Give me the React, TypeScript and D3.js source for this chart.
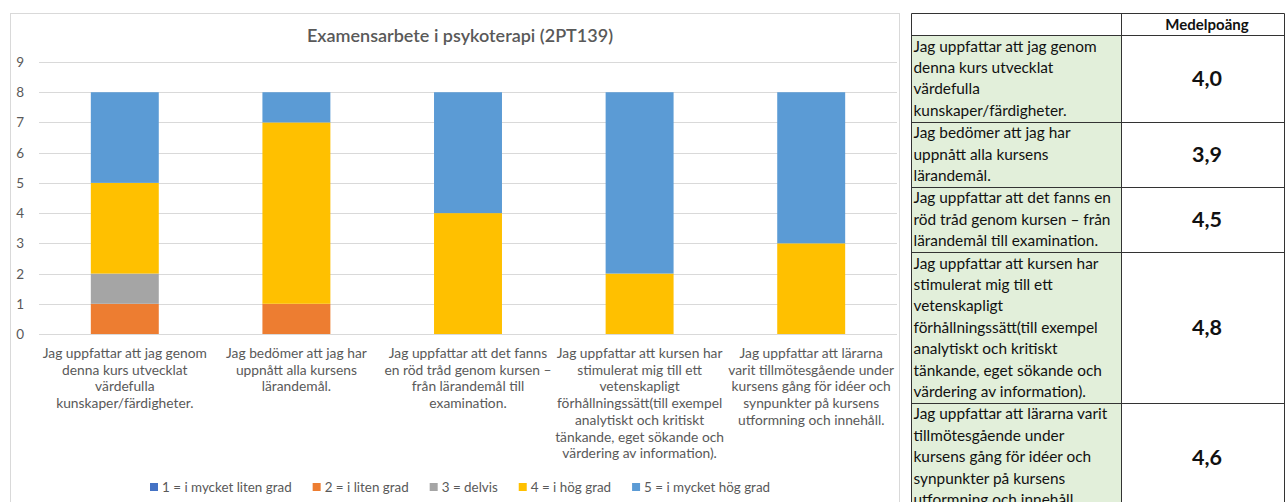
// @ts-nocheck
import React, { useEffect, useRef } from "react";
import * as d3 from "d3";

// chart data (number of answers per grade, per question)
const seriesNames = [
  "1 = i mycket liten grad",
  "2 = i liten grad",
  "3 = delvis",
  "4 = i hög grad",
  "5 = i mycket hög grad",
];
const seriesColors = ["#4472C4", "#ED7D31", "#A5A5A5", "#FFC000", "#5B9BD5"];
const grade1 = [0, 0, 0, 0, 0];
const grade2 = [1, 1, 0, 0, 0];
const grade3 = [1, 0, 0, 0, 0];
const grade4 = [3, 6, 4, 2, 3];
const grade5 = [3, 1, 4, 6, 5];

const categoryLines = [
  ["Jag uppfattar att jag genom", "denna kurs utvecklat", "värdefulla", "kunskaper/färdigheter."],
  ["Jag bedömer att jag har", "uppnått alla kursens", "lärandemål."],
  ["Jag uppfattar att det fanns", "en röd tråd genom kursen –", "från lärandemål till", "examination."],
  [
    "Jag uppfattar att kursen har",
    "stimulerat mig till ett",
    "vetenskapligt",
    "förhållningssätt(till exempel",
    "analytiskt och kritiskt",
    "tänkande, eget sökande och",
    "värdering av information).",
  ],
  [
    "Jag uppfattar att lärarna",
    "varit tillmötesgående under",
    "kursens gång för idéer och",
    "synpunkter på kursens",
    "utformning och innehåll.",
  ],
];
const yTicks = [0, 1, 2, 3, 4, 5, 6, 7, 8, 9];
const title = "Examensarbete i psykoterapi (2PT139)";

// table on the right
const tableHeader = "Medelpoäng";
const tableLines = [
  ["Jag uppfattar att jag genom", "denna kurs utvecklat", "värdefulla", "kunskaper/färdigheter."],
  ["Jag bedömer att jag har", "uppnått alla kursens", "lärandemål."],
  ["Jag uppfattar att det fanns en", "röd tråd genom kursen – från", "lärandemål till examination."],
  [
    "Jag uppfattar att kursen har",
    "stimulerat mig till ett",
    "vetenskapligt",
    "förhållningssätt(till exempel",
    "analytiskt och kritiskt",
    "tänkande, eget sökande och",
    "värdering av information).",
  ],
  [
    "Jag uppfattar att lärarna varit",
    "tillmötesgående under",
    "kursens gång för idéer och",
    "synpunkter på kursens",
    "utformning och innehåll.",
  ],
];
const means = [4.0, 3.9, 4.5, 4.8, 4.6];

const FONT = "Lato, 'Open Sans', sans-serif";
const GREY = "#595959";

export default function App() {
  const ref = useRef();

  useEffect(() => {
    const svg = d3.select(ref.current);
    svg.selectAll("*").remove();

    // chart frame
    svg
      .append("rect")
      .attr("x", 10.5)
      .attr("y", 13.5)
      .attr("width", 889)
      .attr("height", 500)
      .attr("fill", "#fff")
      .attr("stroke", "#d9d9d9");

    const x = d3
      .scaleBand()
      .domain(d3.range(categoryLines.length))
      .range([39, 897])
      .paddingInner(0.604)
      .paddingOuter(0.302);
    const y = d3.scaleLinear().domain([0, 9]).range([334, 62]);

    // grid
    svg
      .append("g")
      .selectAll("line")
      .data(yTicks)
      .join("line")
      .attr("x1", 39)
      .attr("x2", 897)
      .attr("y1", (d) => Math.round(y(d)) + 0.5)
      .attr("y2", (d) => Math.round(y(d)) + 0.5)
      .attr("stroke", "#d9d9d9");

    svg
      .append("g")
      .selectAll("text")
      .data(yTicks)
      .join("text")
      .attr("x", 24)
      .attr("y", (d) => y(d) + 5)
      .attr("text-anchor", "end")
      .attr("font-family", FONT)
      .attr("font-size", 13.5)
      .attr("fill", GREY)
      .text((d) => d);

    // stacked bars
    const rows = categoryLines.map((_, i) => ({
      i,
      s0: grade1[i],
      s1: grade2[i],
      s2: grade3[i],
      s3: grade4[i],
      s4: grade5[i],
    }));
    const stack = d3.stack().keys(["s0", "s1", "s2", "s3", "s4"])(rows);
    svg
      .append("g")
      .selectAll("g")
      .data(stack)
      .join("g")
      .attr("fill", (d, k) => seriesColors[k])
      .selectAll("rect")
      .data((d) => d)
      .join("rect")
      .attr("x", (d) => x(d.data.i))
      .attr("width", x.bandwidth())
      .attr("y", (d) => y(d[1]))
      .attr("height", (d) => y(d[0]) - y(d[1]));

    // title
    svg
      .append("text")
      .attr("x", 460)
      .attr("y", 42)
      .attr("text-anchor", "middle")
      .attr("font-family", FONT)
      .attr("font-size", 18)
      .attr("font-weight", 600)
      .attr("fill", GREY)
      .text(title);

    // category labels
    categoryLines.forEach((lines, i) => {
      const t = svg
        .append("text")
        .attr("text-anchor", "middle")
        .attr("font-family", FONT)
        .attr("font-size", 13.8)
        .attr("fill", GREY);
      lines.forEach((l, j) => {
        t.append("tspan")
          .attr("x", x(i) + x.bandwidth() / 2)
          .attr("y", 358 + j * 16.7)
          .text(l);
      });
    });

    // legend
    let lx = 150;
    seriesNames.forEach((name, k) => {
      svg
        .append("rect")
        .attr("x", lx)
        .attr("y", 483)
        .attr("width", 8)
        .attr("height", 8)
        .attr("fill", seriesColors[k]);
      const t = svg
        .append("text")
        .attr("x", lx + 12)
        .attr("y", 492)
        .attr("font-family", FONT)
        .attr("font-size", 13.4)
        .attr("fill", GREY)
        .text(name);
      lx += 12 + t.node().getComputedTextLength() + 21;
    });

    // table
    const tx0 = 911.5;
    const tx1 = 1121.5;
    const tx2 = 1284.5;
    const valX = 1207;
    const lineH = 21.4;
    const tTop = 13.5;
    const headBottom = 35.5;
    const tbl = svg.append("g");

    let top = headBottom + 0.5;
    const rowTops = [];
    tableLines.forEach((lines) => {
      rowTops.push(top);
      top += lines.length * lineH + 1;
    });

    tableLines.forEach((lines, i) => {
      const rt = rowTops[i];
      const h = lines.length * lineH + 1;
      tbl
        .append("rect")
        .attr("x", tx0)
        .attr("y", rt)
        .attr("width", tx1 - tx0)
        .attr("height", h)
        .attr("fill", "#E2EFDA");
      const t = tbl
        .append("text")
        .attr("font-family", FONT)
        .attr("font-size", 15.4)
        .attr("fill", "#111");
      lines.forEach((l, j) => {
        t.append("tspan")
          .attr("x", tx0 + 2)
          .attr("y", rt + 15.5 + j * lineH)
          .text(l);
      });
      tbl
        .append("text")
        .attr("x", valX)
        .attr("y", rt + h / 2 + 7)
        .attr("text-anchor", "middle")
        .attr("font-family", FONT)
        .attr("font-size", 21.5)
        .attr("font-weight", 700)
        .attr("fill", "#111")
        .text(d3.format(".1f")(means[i]).replace(".", ","));
    });

    tbl
      .append("text")
      .attr("x", valX)
      .attr("y", 30)
      .attr("text-anchor", "middle")
      .attr("font-family", FONT)
      .attr("font-size", 15)
      .attr("font-weight", 700)
      .attr("fill", "#111")
      .text(tableHeader);

    // table borders
    const hLines = [tTop, headBottom, ...rowTops.slice(1)];
    tbl
      .selectAll("line.h")
      .data(hLines)
      .join("line")
      .attr("class", "h")
      .attr("x1", tx0)
      .attr("x2", tx2)
      .attr("y1", (d) => Math.round(d - 0.5) + 0.5)
      .attr("y2", (d) => Math.round(d - 0.5) + 0.5)
      .attr("stroke", "#333");
    [tx0, tx1, tx2].forEach((vx) => {
      tbl
        .append("line")
        .attr("x1", vx)
        .attr("x2", vx)
        .attr("y1", tTop)
        .attr("y2", 502)
        .attr("stroke", "#333");
    });
  }, []);

  return (
    <svg
      ref={ref}
      width={1285}
      height={502}
      style={{ position: "fixed", left: 0, top: 0, background: "#fff" }}
    />
  );
}
